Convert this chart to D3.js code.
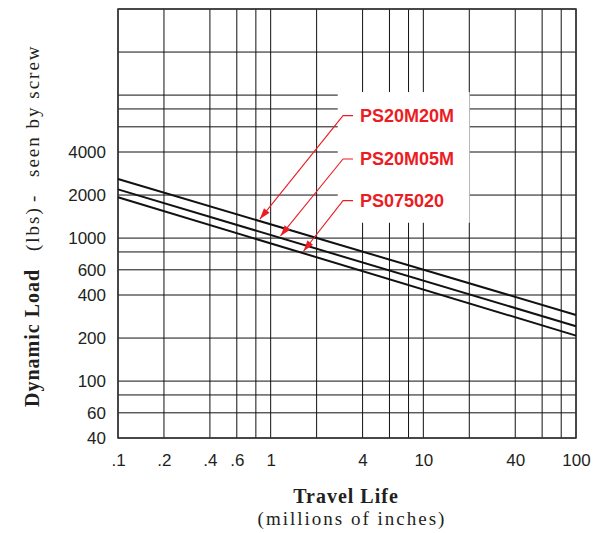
<!DOCTYPE html>
<html>
<head>
<meta charset="utf-8">
<script src="https://cdn.jsdelivr.net/npm/d3@7/dist/d3.min.js"></script>
<style>
  html, body { margin: 0; padding: 0; background: #fff; }
  svg { display: block; }
</style>
</head>
<body>
<svg id="chart" width="598" height="533"></svg>
<script>
// ---------- data ----------
const xGrid = [0.1, 0.2, 0.4, 0.6, 0.8, 1, 2, 4, 6, 8, 10, 20, 40, 60, 80, 100];
const yGrid = [40, 60, 80, 100, 200, 400, 600, 800, 1000, 2000, 4000, 6000, 8000, 10000, 20000, 40000];
const xTicks = [0.1, 0.2, 0.4, 0.6, 1, 4, 10, 40, 100];
const xTickLabels = [".1", ".2", ".4", ".6", "1", "4", "10", "40", "100"];
const yTicks = [40, 60, 100, 200, 400, 600, 1000, 2000, 4000];
const yTickLabels = ["40", "60", "100", "200", "400", "600", "1000", "2000", "4000"];

const seriesNames = ["PS20M20M", "PS20M05M", "PS075020"];
const travelLife = [0.1, 100];               // millions of inches
const loadPS20M20M = [2590, 290];            // lbs
const loadPS20M05M = [2190, 242];
const loadPS075020 = [1930, 208];

const arrowTipLife = [0.85, 1.16, 1.64];     // where each arrow meets its line
const labelLoad = [7070, 3520, 1800];        // label heights (lbs)
const labelLife = 3.85;                      // label start (millions of inches)
const boxLife = [2.75, 20.1];                // white label panel extent
const boxLoad = [1280, 10500];

// ---------- layout ----------
const svg = d3.select("#chart");
const x = d3.scaleLog().domain([0.1, 100]).range([118, 576]);
const y = d3.scaleLog().domain([40, 40000]).range([438, 9]);
const red = "#ec1c24";

// grid
const grid = svg.append("g");
grid.selectAll("line.v").data(xGrid).join("line")
  .attr("x1", d => x(d)).attr("x2", d => x(d))
  .attr("y1", y(40000)).attr("y2", y(40))
  .attr("stroke", "#111").attr("stroke-width", 1);
grid.selectAll("line.h").data(yGrid).join("line")
  .attr("y1", d => y(d)).attr("y2", d => y(d))
  .attr("x1", x(0.1)).attr("x2", x(100))
  .attr("stroke", "#111").attr("stroke-width", 1);

// white panel behind labels
svg.append("rect")
  .attr("x", x(boxLife[0])).attr("width", x(boxLife[1]) - x(boxLife[0]))
  .attr("y", y(boxLoad[1])).attr("height", y(boxLoad[0]) - y(boxLoad[1]))
  .attr("fill", "#fff");

// frame
svg.append("rect")
  .attr("x", x(0.1)).attr("y", y(40000))
  .attr("width", x(100) - x(0.1)).attr("height", y(40) - y(40000))
  .attr("fill", "none").attr("stroke", "#333").attr("stroke-width", 1.5);

// series lines
const seriesLoads = [loadPS20M20M, loadPS20M05M, loadPS075020];
const line = d3.line().x(d => x(d[0])).y(d => y(d[1]));
seriesLoads.forEach(loads => {
  svg.append("path")
    .datum(travelLife.map((t, i) => [t, loads[i]]))
    .attr("d", line)
    .attr("fill", "none").attr("stroke", "#111").attr("stroke-width", 2);
});

// axes
const xAxis = svg.append("g").attr("transform", `translate(0,${y(40)})`)
  .call(d3.axisBottom(x).tickValues(xTicks).tickFormat((d, i) => xTickLabels[i]).tickSize(0).tickPadding(16));
const yAxis = svg.append("g").attr("transform", `translate(${x(0.1)},0)`)
  .call(d3.axisLeft(y).tickValues(yTicks).tickFormat((d, i) => yTickLabels[i]).tickSize(0).tickPadding(12));
[xAxis, yAxis].forEach(a => {
  a.select(".domain").remove();
  a.selectAll("text").attr("font-family", "'Liberation Sans', Arial, sans-serif")
    .attr("font-size", 17).attr("fill", "#231f20");
});

// annotations
function loadAt(loads, t) {
  const f = (Math.log10(t) - Math.log10(travelLife[0])) / (Math.log10(travelLife[1]) - Math.log10(travelLife[0]));
  return Math.pow(10, Math.log10(loads[0]) + f * (Math.log10(loads[1]) - Math.log10(loads[0])));
}
seriesNames.forEach((name, i) => {
  const lx = x(labelLife), ly = y(labelLoad[i]);
  const tipX = x(arrowTipLife[i]);
  const tipY = y(loadAt(seriesLoads[i], arrowTipLife[i])) - 2;
  const ex = lx - 17, ey = ly - 1;
  svg.append("path")
    .attr("d", `M${lx - 7},${ey}L${ex},${ey}L${tipX},${tipY}`)
    .attr("fill", "none").attr("stroke", red).attr("stroke-width", 1.1);
  const ang = Math.atan2(tipY - ey, tipX - ex);
  const L = 11, W = 3.6;
  const bx = tipX - L * Math.cos(ang), by = tipY - L * Math.sin(ang);
  const px = -Math.sin(ang) * W, py = Math.cos(ang) * W;
  svg.append("path")
    .attr("d", `M${tipX},${tipY}L${bx + px},${by + py}L${bx - px},${by - py}Z`)
    .attr("fill", red);
  svg.append("text")
    .attr("x", lx).attr("y", ly + 5.5)
    .attr("font-family", "'Liberation Sans', Arial, sans-serif")
    .attr("font-weight", "bold").attr("font-size", 18)
    .attr("fill", red).text(name);
});

// axis titles
const serif = "'Liberation Serif', 'Times New Roman', serif";
svg.append("text").attr("x", 346).attr("y", 503)
  .attr("text-anchor", "middle").attr("font-family", serif)
  .attr("font-weight", "bold").attr("font-size", 20)
  .style("letter-spacing", "1px").attr("fill", "#231f20").text("Travel Life");
svg.append("text").attr("x", 352).attr("y", 525)
  .attr("text-anchor", "middle").attr("font-family", serif)
  .attr("font-size", 19).style("letter-spacing", "2px")
  .attr("fill", "#231f20").text("(millions of inches)");

const yt = svg.append("g").attr("transform", "translate(39,0) rotate(-90)")
  .attr("font-family", serif).attr("fill", "#231f20");
yt.append("text").attr("x", -407).attr("y", 0)
  .attr("font-weight", "bold").attr("font-size", 20)
  .style("letter-spacing", "1px").text("Dynamic Load");
yt.append("text").attr("x", -251).attr("y", 0)
  .attr("font-size", 19).style("letter-spacing", "2px").text("(lbs)");
yt.append("text").attr("x", -202).attr("y", 0)
  .attr("font-size", 19).text("-");
yt.append("text").attr("x", -177).attr("y", 0)
  .attr("font-size", 19).style("letter-spacing", "2px").text("seen by screw");
</script>
</body>
</html>
